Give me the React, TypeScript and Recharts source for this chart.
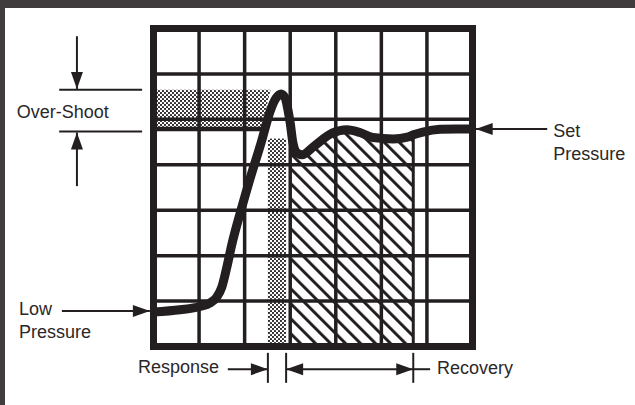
import React from "react";
import {
  ComposedChart,
  Line,
  Area,
  XAxis,
  YAxis,
  CartesianGrid,
  ReferenceArea,
  ReferenceLine,
  ReferenceDot,
} from "recharts";

// grid is 7 x 7 divisions
const gridTicks = [0, 1, 2, 3, 4, 5, 6, 7];

// pressure trace
const curveX = [0, 0.58, 1.02, 1.24, 1.39, 1.5, 1.61, 1.72, 1.92, 2.12, 2.36, 2.57, 2.69, 2.8, 2.89, 2.95, 3.0, 3.06, 3.15, 3.26, 3.5, 3.93, 4.24, 4.53, 4.81, 5.26, 5.57, 5.7, 5.91, 6.29, 6.66, 7];
const pressure = [0.76, 0.81, 0.88, 0.96, 1.09, 1.31, 1.75, 2.25, 3.0, 3.7, 4.48, 5.21, 5.47, 5.56, 5.47, 5.21, 4.92, 4.48, 4.26, 4.22, 4.39, 4.7, 4.77, 4.71, 4.6, 4.57, 4.61, 4.66, 4.72, 4.78, 4.79, 4.79];

const setPressure = 4.79;
const peakLevel = 5.65;

// over-shoot band, left of the rising edge
const bandX = [0, 2.36, 2.57];
const bandLow = [4.79, 4.79, 5.65];

// response / recovery windows
const responseStart = 2.51;
const responseEnd = 2.91;
const responseTop = 4.58;
const recoveryStart = 3.0;
const recoveryEnd = 5.7;
const recoveryTop = 4.66;

const data = curveX.map((x, i) => {
  const b = bandX.indexOf(x);
  return {
    x,
    pressure: pressure[i],
    hatch: x >= recoveryStart && x <= recoveryEnd ? pressure[i] : null,
    band: b >= 0 ? [bandLow[b], peakLevel] : null,
  };
});

const ink = "#231f20";
const textStyle = {
  fontFamily: '"Liberation Sans", Arial, sans-serif',
  fontSize: 18,
  fill: "#2b2728",
};

function arrowShape(heads: "none" | "end" | "both") {
  return (p: any) => {
    const { x1, y1, x2, y2 } = p;
    const dx = x2 - x1;
    const dy = y2 - y1;
    const len = Math.sqrt(dx * dx + dy * dy) || 1;
    const ux = dx / len;
    const uy = dy / len;
    const L = 17;
    const W = 6;
    const head = (tx: number, ty: number, sx: number, sy: number) => {
      const bx = tx - sx * L;
      const by = ty - sy * L;
      return `${tx},${ty} ${bx - sy * W},${by + sx * W} ${bx + sy * W},${by - sx * W}`;
    };
    return (
      <g>
        <line x1={x1} y1={y1} x2={x2} y2={y2} stroke={ink} strokeWidth={2} />
        {heads !== "none" && <polygon points={head(x2, y2, ux, uy)} fill={ink} />}
        {heads === "both" && <polygon points={head(x1, y1, -ux, -uy)} fill={ink} />}
      </g>
    );
  };
}

function textShape(lines: string[]) {
  return (p: any) => (
    <text x={p.cx} y={p.cy} {...textStyle}>
      {lines.map((t, i) => (
        <tspan key={t} x={p.cx} dy={i === 0 ? 0 : 23}>
          {t}
        </tspan>
      ))}
    </text>
  );
}

export default function App() {
  return (
    <>
      <style>{"body{margin:0;background:#fff}"}</style>
      <div style={{ position: "relative", width: 635, height: 405, background: "#fff" }}>
        <div style={{ position: "absolute", left: 0, top: 0, width: 635, height: 8, background: "#403b3c" }} />
        <div style={{ position: "absolute", left: 0, top: 0, width: 5, height: 405, background: "#403b3c" }} />
        <div style={{ position: "absolute", left: 0, top: 0 }}>
          <ComposedChart
            width={635}
            height={405}
            data={data}
            margin={{ top: 28.5, right: 162.5, bottom: 58.5, left: 153.5 }}
          >
            <defs>
              <pattern id="dots" width={4} height={4} patternUnits="userSpaceOnUse">
                <circle cx={1} cy={1} r={1.1} fill={ink} />
                <circle cx={3} cy={3} r={1.1} fill={ink} />
              </pattern>
              <pattern
                id="hatch"
                width={10.6}
                height={10.6}
                patternUnits="userSpaceOnUse"
                patternTransform="rotate(-45)"
              >
                <rect x={0} y={0} width={3} height={10.6} fill={ink} />
              </pattern>
            </defs>
            <XAxis hide type="number" dataKey="x" domain={[0, 7]} ticks={gridTicks} allowDataOverflow />
            <YAxis hide type="number" domain={[0, 7]} ticks={gridTicks} allowDataOverflow />
            <CartesianGrid stroke={ink} strokeWidth={3.5} />

            <ReferenceArea
              x1={responseStart}
              x2={responseEnd}
              y1={0}
              y2={responseTop}
              fill="url(#dots)"
              fillOpacity={1}
              stroke="none"
            />
            <Area
              dataKey="band"
              type="linear"
              connectNulls
              fill="url(#dots)"
              fillOpacity={1}
              stroke="none"
              dot={false}
              activeDot={false}
              isAnimationActive={false}
            />
            <Area
              dataKey="hatch"
              type="monotone"
              fill="url(#hatch)"
              fillOpacity={1}
              stroke="none"
              dot={false}
              activeDot={false}
              isAnimationActive={false}
            />
            <ReferenceLine
              segment={[{ x: 0, y: setPressure }, { x: 2.36, y: setPressure }]}
              stroke={ink}
              strokeWidth={4.5}
            />
            <ReferenceLine
              segment={[{ x: recoveryEnd, y: 0 }, { x: recoveryEnd, y: recoveryTop }]}
              stroke={ink}
              strokeWidth={3}
            />
            <Line
              dataKey="pressure"
              type="monotone"
              stroke={ink}
              strokeWidth={9}
              strokeLinejoin="round"
              dot={false}
              activeDot={false}
              isAnimationActive={false}
            />
            <ReferenceArea x1={0} x2={7} y1={0} y2={7} fill="none" stroke={ink} strokeWidth={7} />

            {/* over-shoot markers */}
            <ReferenceLine ifOverflow="visible" segment={[{ x: -2.07, y: peakLevel }, { x: -0.25, y: peakLevel }]} shape={arrowShape("none")} />
            <ReferenceLine ifOverflow="visible" segment={[{ x: -2.07, y: 4.73 }, { x: -0.25, y: 4.73 }]} shape={arrowShape("none")} />
            <ReferenceLine ifOverflow="visible" segment={[{ x: -1.68, y: 6.83 }, { x: -1.68, y: 5.67 }]} shape={arrowShape("end")} />
            <ReferenceLine ifOverflow="visible" segment={[{ x: -1.68, y: 3.53 }, { x: -1.68, y: 4.71 }]} shape={arrowShape("end")} />
            {/* set / low pressure pointers */}
            <ReferenceLine ifOverflow="visible" segment={[{ x: 8.64, y: setPressure }, { x: 7.07, y: setPressure }]} shape={arrowShape("end")} />
            <ReferenceLine ifOverflow="visible" segment={[{ x: -2.01, y: 0.78 }, { x: -0.08, y: 0.78 }]} shape={arrowShape("end")} />
            {/* response / recovery */}
            <ReferenceLine ifOverflow="visible" segment={[{ x: responseStart, y: -0.14 }, { x: responseStart, y: -0.8 }]} shape={arrowShape("none")} />
            <ReferenceLine ifOverflow="visible" segment={[{ x: responseEnd, y: -0.14 }, { x: responseEnd, y: -0.8 }]} shape={arrowShape("none")} />
            <ReferenceLine ifOverflow="visible" segment={[{ x: recoveryEnd, y: -0.14 }, { x: recoveryEnd, y: -0.8 }]} shape={arrowShape("none")} />
            <ReferenceLine ifOverflow="visible" segment={[{ x: 1.63, y: -0.5 }, { x: responseStart, y: -0.5 }]} shape={arrowShape("end")} />
            <ReferenceLine ifOverflow="visible" segment={[{ x: responseEnd, y: -0.5 }, { x: recoveryEnd, y: -0.5 }]} shape={arrowShape("both")} />
            <ReferenceLine ifOverflow="visible" segment={[{ x: recoveryEnd, y: -0.5 }, { x: 6.07, y: -0.5 }]} shape={arrowShape("none")} />

            <ReferenceDot ifOverflow="visible" x={-3.0} y={5.03} r={0} shape={textShape(["Over-Shoot"])} />
            <ReferenceDot ifOverflow="visible" x={8.77} y={4.61} r={0} shape={textShape(["Set", "Pressure"])} />
            <ReferenceDot ifOverflow="visible" x={-2.95} y={0.69} r={0} shape={textShape(["Low", "Pressure"])} />
            <ReferenceDot ifOverflow="visible" x={-0.34} y={-0.58} r={0} shape={textShape(["Response"])} />
            <ReferenceDot ifOverflow="visible" x={6.22} y={-0.61} r={0} shape={textShape(["Recovery"])} />
          </ComposedChart>
        </div>
      </div>
    </>
  );
}
